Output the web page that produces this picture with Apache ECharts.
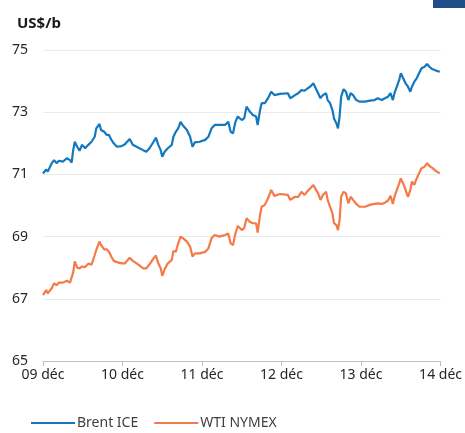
<!DOCTYPE html>
<html>
<head>
<meta charset="utf-8">
<script src="https://cdn.jsdelivr.net/npm/echarts@6/dist/echarts.min.js"></script>
<style>
  html, body { margin: 0; padding: 0; background: #fff; }
  #chart { width: 465px; height: 433px; }
</style>
</head>
<body>
<div id="chart"></div>
<script>
  // time in days since 09 déc 00:00
  const days = [
    0.00, 0.04, 0.06, 0.11, 0.14, 0.17, 0.20, 0.25, 0.30, 0.34, 0.36, 0.38, 0.40, 0.43, 0.46,
    0.49, 0.53, 0.57, 0.61, 0.65, 0.67, 0.71, 0.73, 0.77, 0.80, 0.83, 0.86, 0.89, 0.93, 0.99,
    1.03, 1.09, 1.13, 1.20, 1.26, 1.30, 1.34, 1.39, 1.42, 1.45, 1.48, 1.50, 1.53, 1.57, 1.62,
    1.64, 1.67, 1.70, 1.73, 1.76, 1.81, 1.85, 1.88, 1.91, 1.97,
    2.04, 2.08, 2.12, 2.16, 2.22, 2.29, 2.33, 2.36, 2.39, 2.42, 2.45, 2.50, 2.53, 2.56, 2.60,
    2.64, 2.68, 2.70, 2.73, 2.75, 2.79, 2.83, 2.87, 2.91, 2.98,
    3.08, 3.11, 3.17, 3.21, 3.25, 3.29, 3.33, 3.36, 3.40, 3.43, 3.46, 3.49, 3.52, 3.56, 3.58,
    3.61, 3.64, 3.66, 3.69, 3.71, 3.73, 3.75, 3.78, 3.81, 3.84, 3.87, 3.90, 3.94, 3.98,
    4.05, 4.11, 4.17, 4.21, 4.26, 4.30, 4.34, 4.37, 4.40, 4.42, 4.45, 4.48, 4.50, 4.53, 4.56,
    4.59, 4.62, 4.64, 4.67, 4.70, 4.73, 4.76, 4.80, 4.83, 4.86, 4.90, 4.95, 4.99
  ];
  const brent = [
    71.03, 71.16, 71.09, 71.36, 71.46, 71.36, 71.44, 71.41, 71.52, 71.46, 71.38, 71.78, 72.05, 71.89, 71.76,
    71.95, 71.84, 71.95, 72.05, 72.21, 72.48, 72.62, 72.43, 72.37, 72.27, 72.27, 72.11, 72.00, 71.89, 71.91,
    71.97, 72.14, 71.95, 71.86, 71.78, 71.73, 71.84, 72.05, 72.18, 71.95, 71.78, 71.57, 71.73, 71.84, 71.95,
    72.21, 72.37, 72.48, 72.69, 72.57, 72.43, 72.21, 71.89, 72.03, 72.05,
    72.11, 72.21, 72.48, 72.59, 72.59, 72.59, 72.69, 72.37, 72.32, 72.69, 72.86, 72.75, 72.80, 73.18, 73.02,
    72.91, 72.86, 72.59, 73.07, 73.29, 73.29, 73.45, 73.66, 73.55, 73.59,
    73.61, 73.45, 73.55, 73.61, 73.71, 73.69, 73.77, 73.82, 73.93, 73.77, 73.61, 73.45, 73.55, 73.61, 73.39,
    73.29, 73.07, 72.80, 72.64, 72.48, 72.86, 73.50, 73.74, 73.66, 73.39, 73.61, 73.55, 73.39, 73.34,
    73.34, 73.37, 73.39, 73.45, 73.39, 73.45, 73.50, 73.61, 73.39, 73.61, 73.82, 74.04, 74.25, 74.09, 73.93,
    73.82, 73.66, 73.82, 73.98, 74.09, 74.25, 74.41, 74.46, 74.55, 74.46, 74.38, 74.33, 74.30
  ];
  const wti = [
    67.12, 67.28, 67.18, 67.34, 67.50, 67.44, 67.52, 67.52, 67.58, 67.52, 67.50, 67.85, 68.20, 68.00, 67.98,
    68.04, 68.02, 68.13, 68.10, 68.40, 68.57, 68.84, 68.73, 68.59, 68.59, 68.51, 68.35, 68.22, 68.18, 68.14,
    68.14, 68.32, 68.22, 68.10, 67.98, 67.98, 68.11, 68.30, 68.39, 68.14, 67.98, 67.74, 67.95, 68.14, 68.25,
    68.54, 68.51, 68.78, 69.00, 68.95, 68.84, 68.68, 68.36, 68.46, 68.46,
    68.51, 68.62, 68.95, 69.05, 69.00, 69.05, 69.10, 68.78, 68.73, 69.10, 69.34, 69.21, 69.27, 69.59, 69.48,
    69.43, 69.43, 69.13, 69.70, 69.96, 70.02, 70.23, 70.50, 70.31, 70.37,
    70.34, 70.18, 70.28, 70.28, 70.44, 70.34, 70.47, 70.55, 70.66, 70.52, 70.39, 70.18, 70.34, 70.44, 70.18,
    69.96, 69.75, 69.43, 69.37, 69.21, 69.53, 70.28, 70.44, 70.39, 70.07, 70.28, 70.18, 70.05, 69.96,
    69.96, 70.02, 70.05, 70.07, 70.05, 70.09, 70.16, 70.31, 70.05, 70.28, 70.50, 70.71, 70.87, 70.71, 70.50,
    70.28, 70.50, 70.77, 70.66, 70.87, 71.04, 71.20, 71.25, 71.36, 71.27, 71.20, 71.09, 71.04
  ];
  const dayLabels = ['09 déc', '10 déc', '11 déc', '12 déc', '13 déc', '14 déc'];
  const yBase = 65; // axis floor, ticks every 2 from here

  const font = '"Noto Sans", "Open Sans", sans-serif';
  const toPts = vals => vals.map((v, i) => [days[i], v - yBase]);

  let chart = echarts.init(document.getElementById('chart'));
  chart.setOption({
    animation: false,
    grid: { left: 43, right: 24, top: 50, bottom: 72 },
    title: {
      text: 'US$/b',
      left: 12,
      top: 11,
      textStyle: { fontFamily: font, fontSize: 15, fontWeight: 'bold', color: '#1a1a1a' }
    },
    graphic: [{
      type: 'rect',
      right: 0,
      top: 0,
      shape: { width: 32, height: 8 },
      style: { fill: '#1f4e89' }
    }],
    legend: {
      left: 26,
      top: 411,
      itemWidth: 44,
      itemHeight: 2,
      itemGap: 16,
      icon: 'rect',
      textStyle: { fontFamily: font, fontSize: 14, color: '#404040', padding: [0, 0, 0, -3] },
      data: ['Brent ICE', 'WTI NYMEX']
    },
    xAxis: {
      type: 'value',
      min: 0,
      max: 5,
      interval: 1,
      axisLine: { lineStyle: { color: '#bfbfbf' } },
      axisTick: { show: true, length: 5, lineStyle: { color: '#bfbfbf' } },
      splitLine: { show: false },
      axisLabel: {
        fontFamily: font,
        fontSize: 14,
        color: '#262626',
        margin: 7,
        formatter: v => dayLabels[Math.round(v)]
      }
    },
    yAxis: {
      type: 'value',
      min: 0,
      max: 10,
      interval: 2,
      axisLine: { show: false },
      axisTick: { show: false },
      splitLine: { lineStyle: { color: '#ebebeb' } },
      axisLabel: {
        fontFamily: font,
        fontSize: 14,
        color: '#262626',
        margin: 15,
        formatter: v => String(v + yBase)
      }
    },
    series: [
      {
        name: 'Brent ICE',
        type: 'line',
        data: toPts(brent),
        showSymbol: false,
        lineStyle: { color: '#1378bf', width: 2.2 },
        itemStyle: { color: '#1378bf' }
      },
      {
        name: 'WTI NYMEX',
        type: 'line',
        data: toPts(wti),
        showSymbol: false,
        lineStyle: { color: '#f47a48', width: 2.2 },
        itemStyle: { color: '#f47a48' }
      }
    ]
  });
</script>
</body>
</html>
